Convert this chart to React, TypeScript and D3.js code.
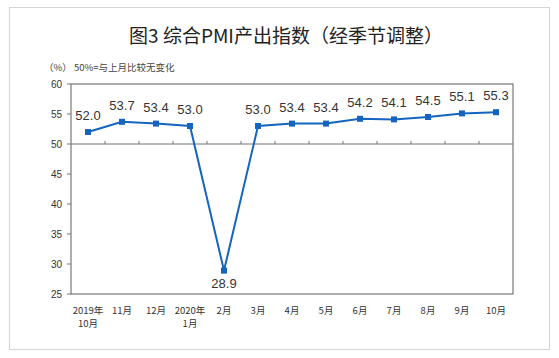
import React from 'react';
import * as d3 from 'd3';

const months = ['2019年\n10月', '11月', '12月', '2020年\n1月', '2月', '3月', '4月', '5月', '6月', '7月', '8月', '9月', '10月'];
const pmi = [52.0, 53.7, 53.4, 53.0, 28.9, 53.0, 53.4, 53.4, 54.2, 54.1, 54.5, 55.1, 55.3];
const yTicks = [25, 30, 35, 40, 45, 50, 55, 60];

const W = 559, H = 358;
const left = 71, right = 513, top = 84, bottom = 294;
const blue = '#1464c0';

const App = () => {
    const x = d3.scaleBand<number>()
        .domain(months.map((_, i) => i))
        .range([left, right])
        .padding(0);
    const y = d3.scaleLinear().domain([25, 60]).range([bottom, top]);
    const cx = (i: number) => (x(i) as number) + x.bandwidth() / 2;

    const line = d3.line<number>()
        .x((_, i) => cx(i))
        .y(d => y(d));

    return (
        <svg width={W} height={H} style={{ position: 'absolute', left: 0, top: 0, background: '#fff' }}>
            <rect x={9.5} y={7.5} width={540} height={342} fill="#fff" stroke="#d4d4d4" />
            <text x={286} y={43} textAnchor="middle" fontSize={19} fontWeight={400}
                fontFamily="'Noto Sans CJK SC', sans-serif" fill="#222">图3 综合PMI产出指数（经季节调整）</text>
            <text x={44} y={71} fontSize={9.5} fontFamily="'Noto Sans CJK SC', sans-serif" fill="#444">（%） 50%=与上月比较无变化</text>

            {/* plot frame */}
            <rect x={left} y={top} width={right - left} height={bottom - top} fill="none" stroke="#777" strokeWidth={1.2} />

            {/* y axis */}
            {yTicks.map(t => (
                <g key={t}>
                    <line x1={left - 4} x2={left} y1={y(t)} y2={y(t)} stroke="#777" />
                    <text x={62} y={y(t) + 4} textAnchor="end" fontSize={10}
                        fontFamily="'Liberation Sans', Arial, sans-serif" fill="#333">{t}</text>
                </g>
            ))}

            {/* category axis at 50 */}
            <line x1={left} x2={right} y1={y(50)} y2={y(50)} stroke="#777" strokeWidth={1.2} />
            {months.slice(1).map((_, i) => (
                <line key={i} x1={x(i + 1)} x2={x(i + 1)} y1={y(50) - 3} y2={y(50)} stroke="#777" />
            ))}

            {/* x labels */}
            {months.map((m, i) => m.split('\n').map((s, j) => (
                <text key={i + '-' + j} x={cx(i)} y={314 + j * 13} textAnchor="middle" fontSize={9.5}
                    fontFamily="'Noto Sans CJK SC', sans-serif" fill="#333">{s}</text>
            )))}

            <path d={line(pmi) as string} fill="none" stroke={blue} strokeWidth={2} />
            {pmi.map((v, i) => (
                <rect key={i} x={cx(i) - 3} y={y(v) - 3} width={6} height={6} fill={blue} />
            ))}
            {pmi.map((v, i) => (
                <text key={i} x={cx(i)} y={v < 50 ? y(v) + 17 : y(v) - 12} textAnchor="middle" fontSize={13}
                    fontFamily="'Liberation Sans', Arial, sans-serif" fill="#333">{v.toFixed(1)}</text>
            ))}
        </svg>
    );
};

export default App;
